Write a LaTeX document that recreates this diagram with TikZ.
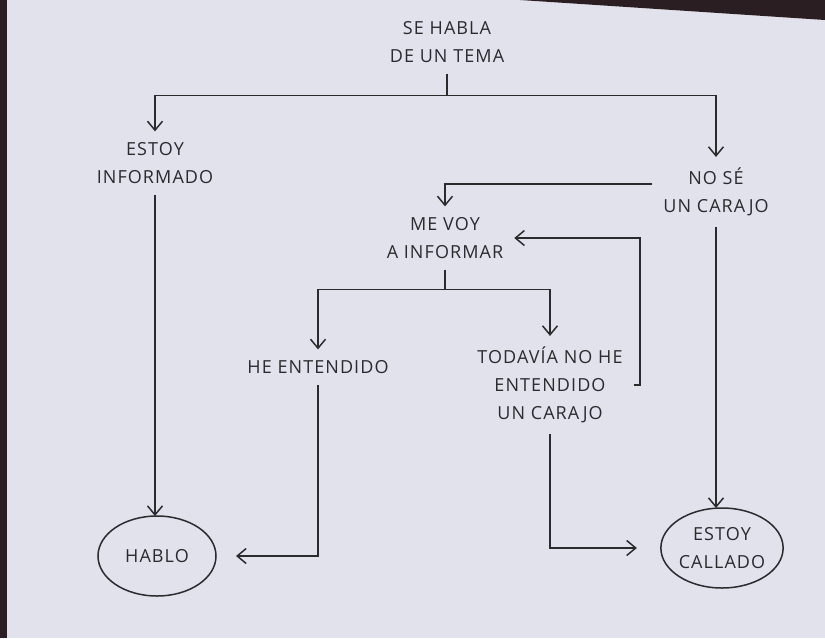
\documentclass[tikz,border=0pt]{standalone}
\usepackage{fontspec}
\setmainfont{Open Sans}[LetterSpace=6]
\usetikzlibrary{arrows.meta,shapes.geometric}

\definecolor{paper}{HTML}{E1E2EC}
\definecolor{frame}{HTML}{2A1E22}
\definecolor{pen}{HTML}{2B2B2E}

\begin{document}
\begin{tikzpicture}[
    x=1pt, y=-1pt,
    fc step/.style={
        font=\fontsize{18}{28}\selectfont,
        text=pen,
        align=center,
        inner sep=2pt,
        outer sep=9pt
    },
    fc end/.style={
        fc step,
        ellipse,
        draw=pen,
        line width=1.5pt,
        outer sep=0pt,
        inner sep=0pt,
        minimum width=118pt,
        minimum height=80pt
    },
    fc line/.style={
        line width=1.5pt,
        draw=pen
    },
    fc flow/.style={
        fc line,
        -{Straight Barb[length=9pt,width=15pt]}
    }
]
    % Hintergrund (Bildschirm) und dunkler Rand
    \fill[paper] (0,0) rectangle (825,638);
    \fill[frame] (0,0) rectangle (7,638);
    \fill[frame] (520,0) -- (825,0) -- (825,20) -- cycle;
    \useasboundingbox (0,0) rectangle (825,638);

    % Knoten
    \node[fc step] (tema) at (447,42) {SE HABLA\\DE UN TEMA};
    \node[fc step] (informado) at (155,163) {ESTOY\\INFORMADO};
    \node[fc step] (nose) at (716,192) {NO SÉ\\UN CARAJO};
    \node[fc step] (mevoy) at (445,238) {ME VOY\\A INFORMAR};
    \node[fc step] (entendido) at (318,367) {HE ENTENDIDO};
    \node[fc step] (todavia) at (550,385)
        {TODAVÍA NO HE\\ENTENDIDO\\UN CARAJO};
    \node[fc end] (hablo) at (157,556) {HABLO};
    \node[fc end, minimum width=122pt] (callado) at (722,548)
        {ESTOY\\CALLADO};

    % Verzweigungen
    \draw[fc line] (tema.south) -- ++(0,22) coordinate (split1);
    \foreach \target in {informado,nose}
        \draw[fc flow] (split1) -| (\target);
    \draw[fc flow] ([yshift=8pt]nose.west) -| (mevoy);
    \draw[fc line] (mevoy.south) -- ++(0,20) coordinate (split2);
    \foreach \target in {entendido,todavia}
        \draw[fc flow] (split2) -| (\target);

    % Schleife zurueck
    \coordinate (loop) at (640,0);
    \draw[fc flow] (todavia.east) -- (todavia.east -| loop) |- (mevoy.east);

    % Ausgaenge
    \draw[fc flow] (informado.south) -- (informado.south |- hablo.north);
    \draw[fc flow] (nose.south) -- (nose.south |- callado.north);
    \draw[fc flow, shorten >=20pt] (entendido) |- (hablo);
    \draw[fc flow, shorten >=24pt] (todavia) |- (callado);
\end{tikzpicture}
\end{document}
